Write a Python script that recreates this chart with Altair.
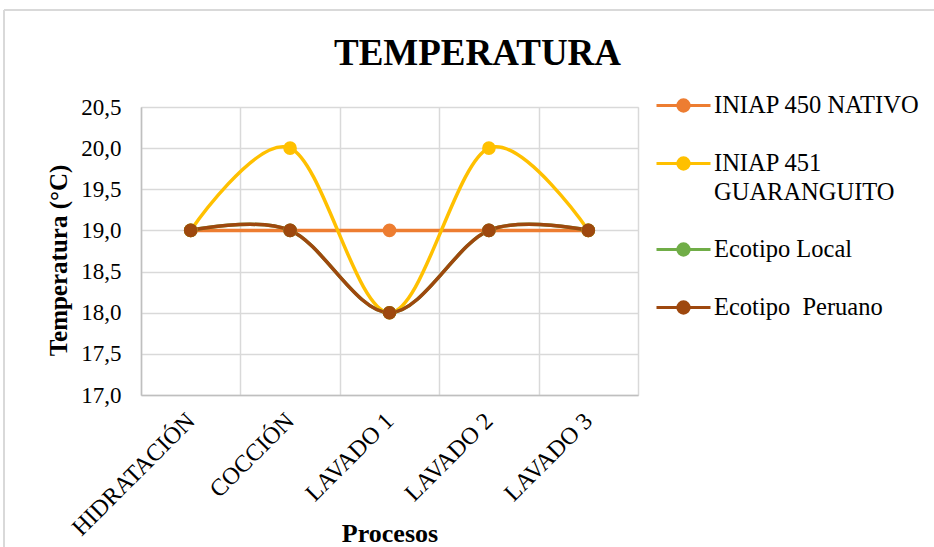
import altair as alt
import pandas as pd

# Categories, series and values
procesos = ["HIDRATACIÓN", "COCCIÓN", "LAVADO 1", "LAVADO 2", "LAVADO 3"]
series = ["INIAP 450 NATIVO", "INIAP 451 GUARANGUITO", "Ecotipo Local", "Ecotipo  Peruano"]
iniap_450_nativo = [19.0, 19.0, 19.0, 19.0, 19.0]
iniap_451_guaranguito = [19.0, 20.0, 18.0, 20.0, 19.0]
ecotipo_local = [19.0, 19.0, 18.0, 19.0, 19.0]
ecotipo_peruano = [19.0, 19.0, 18.0, 19.0, 19.0]
colores = ["#ED7D31", "#FFC000", "#70AD47", "#9E480E"]
y_ticks = [17.0, 17.5, 18.0, 18.5, 19.0, 19.5, 20.0, 20.5]

valores = [iniap_450_nativo, iniap_451_guaranguito, ecotipo_local, ecotipo_peruano]
rows = []
for orden, (nombre, vals) in enumerate(zip(series, valores)):
    for proceso, v in zip(procesos, vals):
        rows.append({"serie": nombre, "orden": orden, "proceso": proceso, "temp": v})
df = pd.DataFrame(rows)

FONT = "Liberation Serif"
GRID = "#D9D9D9"

x_enc = alt.X(
    "proceso:N",
    sort=procesos,
    scale=alt.Scale(type="band", paddingInner=0, paddingOuter=0),
    axis=alt.Axis(
        title="Procesos",
        titleFont=FONT, titleFontSize=26, titleFontWeight="bold", titleColor="black",
        titleY=146, titleBaseline="alphabetic",
        labelFont=FONT, labelFontSize=24, labelColor="black",
        labelAngle=-45, labelAlign="right", labelBaseline="middle", labelPadding=22,
        ticks=False, tickBand="extent",
        grid=True, gridColor=GRID, gridWidth=1.5,
        domainColor="#BFBFBF", domainWidth=1.5,
    ),
)
y_enc = alt.Y(
    "temp:Q",
    scale=alt.Scale(domain=[17.0, 20.5], nice=False, zero=False),
    axis=alt.Axis(
        title="Temperatura (°C)",
        titleFont=FONT, titleFontSize=25, titleFontWeight="bold", titleColor="black",
        titleX=-83, titleY=153, titleAngle=270, titleAlign="center", titleBaseline="middle",
        values=y_ticks,
        labelExpr="replace(format(datum.value, '.1f'), '.', ',')",
        labelFont=FONT, labelFontSize=23, labelColor="black", labelPadding=20,
        ticks=False, grid=True, gridColor=GRID, gridWidth=1.5,
        domainColor="#BFBFBF", domainWidth=1.5,
    ),
)

escala = alt.Scale(domain=series, range=colores)
# legend symbol: a short line with a dot in the middle
simbolo = "M-1,0L1,0M0.21,0A0.21,0.21,0,1,1,-0.21,0A0.21,0.21,0,1,1,0.21,0Z"
leyenda = alt.Legend(
    title=None,
    orient="none", legendX=514, legendY=-30,
    symbolType=simbolo, symbolSize=2916, symbolStrokeWidth=3,
    labelFont=FONT, labelFontSize=24.5, labelColor="black", labelLimit=400,
    labelOffset=2, rowPadding=17,
    labelExpr=(
        "datum.label == 'INIAP 451 GUARANGUITO' ? ['INIAP 451', 'GUARANGUITO'] : "
        "replace(datum.label, '  ', ' \u00a0')"
    ),
)

lineas = alt.Chart(df).mark_line(
    interpolate="cardinal", tension=0, strokeWidth=3.5
).encode(
    x=x_enc, y=y_enc,
    color=alt.Color("serie:N", sort=series, scale=escala, legend=leyenda),
    detail="orden:O",
)

puntos = alt.Chart(df).mark_point(filled=True, opacity=1).encode(
    x=x_enc, y=y_enc,
    color=alt.Color("serie:N", sort=series, scale=escala, legend=leyenda),
    stroke=alt.Stroke("serie:N", sort=series, scale=escala, legend=leyenda),
    size=alt.value(135),
    order="orden:O",
)

# Light frame around the chart (left and top edges)
marco = pd.DataFrame({"k": [0]})
borde_izq = alt.Chart(marco).mark_rule(color=GRID, strokeWidth=2).encode(
    x=alt.value(-137), y=alt.value(-97), y2=alt.value(460)
)
borde_sup = alt.Chart(marco).mark_rule(color=GRID, strokeWidth=2).encode(
    x=alt.value(-137), x2=alt.value(800), y=alt.value(-97)
)

chart = alt.layer(borde_izq, borde_sup, lineas, puntos).properties(
    width=497,
    height=288,
    padding={"left": 141, "top": 107, "right": 296, "bottom": 152},
    autosize=alt.AutoSizeParams(type="none"),
    title=alt.Title(
        "TEMPERATURA", font=FONT, fontSize=37, fontWeight="bold", color="black",
        anchor="middle", dx=88, offset=-64,
    ),
).configure_view(
    stroke=GRID, strokeWidth=1.5
).configure(
    background="white",
    style={"guide-label": {"lineHeight": 29}},
)

chart.save("out.html", embed_options={"renderer": "svg", "actions": False})
